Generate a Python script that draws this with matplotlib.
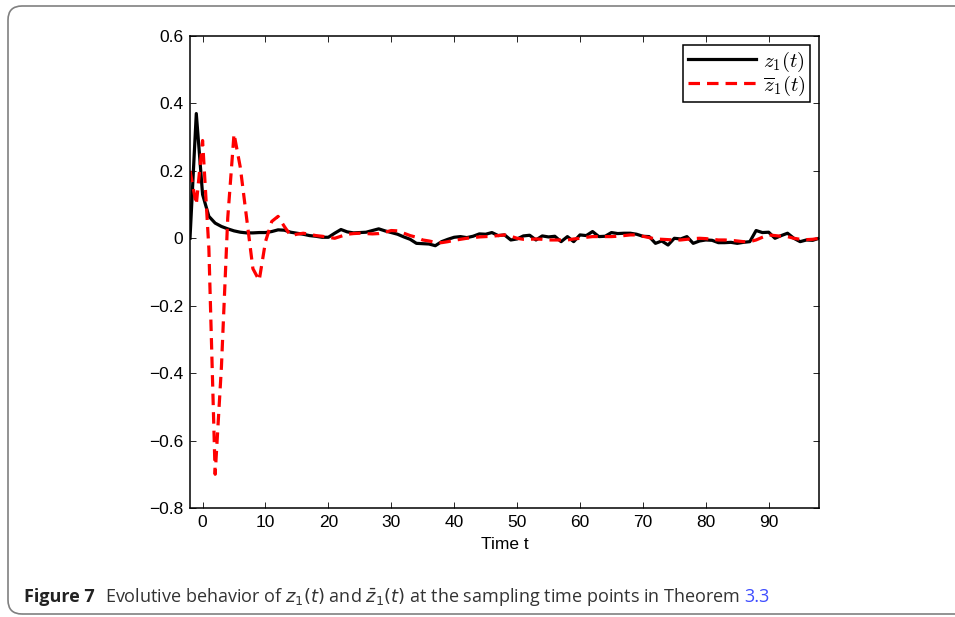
import numpy as np
import matplotlib
matplotlib.use('Agg')
import matplotlib.pyplot as plt
from matplotlib.patches import FancyBboxPatch
from matplotlib.transforms import IdentityTransform

# 时间点
t = np.arange(-2, 99)

# z1(t)
z1 = [0.0, 0.37, 0.13, 0.065, 0.045, 0.035, 0.028, 0.022, 0.018, 0.016,
      0.016, 0.017, 0.017, 0.02, 0.025, 0.024, 0.018, 0.015, 0.012, 0.008,
      0.006, 0.003, 0.003, 0.015, 0.026, 0.019, 0.016, 0.017, 0.018, 0.023,
      0.028, 0.022, 0.017, 0.012, 0.004, -0.003, -0.015, -0.016, -0.017, -0.022,
      -0.01, -0.003, 0.003, 0.005, 0.002, 0.006, 0.013, 0.012, 0.017, 0.008,
      0.01, -0.005, -0.002, 0.007, 0.009, -0.005, 0.007, 0.004, 0.006, -0.01,
      0.005, -0.01, 0.01, 0.008, 0.02, 0.005, 0.006, 0.017, 0.014, 0.015,
      0.015, 0.012, 0.006, 0.005, -0.015, -0.008, -0.02, 0.0, -0.002, 0.005,
      -0.015, -0.008, -0.005, -0.006, -0.013, -0.013, -0.012, -0.015, -0.012, -0.01,
      0.023, 0.017, 0.018, 0.0, 0.008, 0.015, 0.0, -0.01, -0.005, -0.006,
      0.0]

# z1_bar(t)
z1_bar = [0.20, 0.10, 0.29, -0.03, -0.70, -0.38, 0.06, 0.31, 0.21, 0.06,
          -0.09, -0.125, -0.01, 0.05, 0.065, 0.035, 0.008, 0.012, 0.015, 0.012,
          0.008, 0.006, 0.003, 0.0, 0.006, 0.012, 0.014, 0.015, 0.014, 0.013,
          0.014, 0.018, 0.023, 0.022, 0.015, 0.008, 0.003, -0.005, -0.008, -0.012,
          -0.013, -0.01, -0.006, -0.003, 0.0, 0.002, 0.004, 0.005, 0.006, 0.008,
          0.01, 0.006, 0.0, -0.003, -0.003, -0.002, -0.003, -0.005, -0.005, -0.005,
          -0.005, -0.002, 0.0, 0.003, 0.005, 0.005, 0.005, 0.005, 0.006, 0.008,
          0.01, 0.01, 0.006, 0.002, -0.002, -0.003, -0.004, -0.005, -0.005, -0.003,
          -0.001, 0.0, -0.001, -0.003, -0.005, -0.005, -0.006, -0.008, -0.01, -0.01,
          -0.005, 0.003, 0.01, 0.008, 0.006, 0.005, 0.0, -0.003, -0.004, -0.003,
          0.0]

x_ticks = [0, 10, 20, 30, 40, 50, 60, 70, 80, 90]
y_ticks = [0.6, 0.4, 0.2, 0, -0.2, -0.4, -0.6, -0.8]

plt.rcParams['font.family'] = ['Liberation Sans', 'DejaVu Sans']
plt.rcParams['axes.unicode_minus'] = True

fig = plt.figure(figsize=(9.55, 6.17), dpi=100)
ax = fig.add_axes([190 / 955, 1 - 508 / 617, 629 / 955, 472 / 617])

ax.plot(t, z1, color='black', lw=2.3, label=r'$z_1(t)$')
ax.plot(t, z1_bar, color='#ff0000', lw=2.3, dashes=(3.6, 2.2), label=r'$\overline{z}_1(t)$')

ax.set_xlim(-2, 98)
ax.set_ylim(-0.8, 0.6)
ax.set_xticks(x_ticks)
ax.set_yticks(y_ticks)
ax.set_yticklabels(['0.6', '0.4', '0.2', '0', '\u22120.2', '\u22120.4', '\u22120.6', '\u22120.8'])
ax.tick_params(direction='in', length=4, width=0.6, top=True, right=True, labelsize=12.5, pad=5)
for s in ax.spines.values():
    s.set_linewidth(1.1)
ax.set_xlabel('Time t', fontsize=12.5, labelpad=5)

leg = ax.legend(loc='upper right', handlelength=3.3, borderaxespad=0.45,
                fancybox=False, framealpha=1, edgecolor='black',
                prop={'math_fontfamily': 'cm', 'size': 15}, labelspacing=0.0,
                borderpad=0.2, handletextpad=0.3)
leg.get_frame().set_linewidth(1.1)

# 外框
frame = FancyBboxPatch((8, 3), 1000, 608, boxstyle='round,pad=0,rounding_size=14',
                       transform=IdentityTransform(), facecolor='none',
                       edgecolor='#808080', lw=1.2)
fig.add_artist(frame)

# 图注
fig.canvas.draw()
renderer = fig.canvas.get_renderer()
cap_y = 1 - 597 / 617
t1 = fig.text(24 / 955, cap_y, 'Figure 7', fontsize=13, fontweight='bold',
              family=['Open Sans'], color='#222222', va='center')
bb = t1.get_window_extent(renderer)
t2 = fig.text((bb.x1 + 10) / 955, cap_y,
              r'Evolutive behavior of $z_1(t)$ and $\bar{z}_1(t)$ at the sampling time points in Theorem',
              fontsize=13, family=['Open Sans'], color='#333333', va='center',
              math_fontfamily='dejavusans')
bb2 = t2.get_window_extent(renderer)
fig.text((bb2.x1 + 4) / 955, cap_y, '3.3', fontsize=13, family=['Open Sans'],
         color='#3d4cff', va='center')

fig.savefig('out.png', dpi=100)
